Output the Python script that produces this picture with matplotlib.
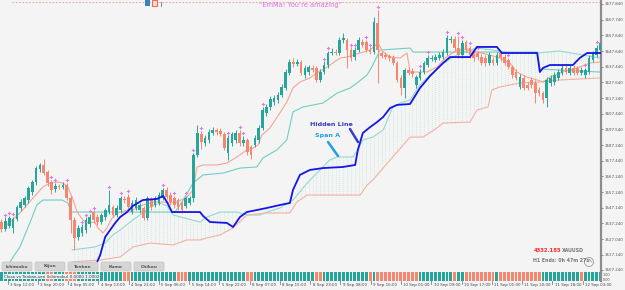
import numpy as np
import matplotlib
matplotlib.use("Agg")
import matplotlib.pyplot as plt
import matplotlib.transforms as mtransforms
from matplotlib.patches import Rectangle, FancyBboxPatch, Circle
from matplotlib.lines import Line2D

# ========== 1. Data (XAUUSD, H1) ==========
opens = [3538.0, 3533.5, 3535.4, 3534.2, 3539.9, 3547.0, 3548.9, 3552.1, 3557.3, 3563.7,
         3572.0, 3574.6, 3570.1, 3563.7, 3559.2, 3561.1, 3560.5, 3561.7, 3553.4, 3539.3,
         3528.4, 3531.0, 3532.9, 3536.7, 3544.4, 3541.2, 3538.0, 3541.2, 3544.4, 3547.6,
         3542.5, 3545.7, 3552.8, 3554.0, 3544.4, 3547.0, 3545.7, 3547.0, 3540.6, 3552.1,
         3548.9, 3550.2, 3553.4, 3558.5, 3555.3, 3553.4, 3552.1, 3550.2, 3548.3, 3550.2,
         3553.4, 3581.0, 3594.5, 3588.7, 3590.6, 3595.1, 3597.0, 3596.4, 3594.5, 3582.3,
         3588.7, 3590.6, 3595.1, 3588.7, 3590.6, 3586.1, 3587.4, 3590.6, 3598.3, 3607.9,
         3611.8, 3615.0, 3616.3, 3619.5, 3624.0, 3633.6, 3640.6, 3639.4, 3640.6, 3632.3,
         3634.2, 3636.8, 3636.8, 3629.1, 3634.2, 3638.7, 3646.4, 3647.0, 3646.4, 3654.7,
         3654.7, 3648.3, 3643.8, 3648.3, 3653.5, 3653.5, 3648.3, 3647.0, 3665.6, 3646.4,
         3645.1, 3644.5, 3643.2, 3640.0, 3630.4, 3624.0, 3635.5, 3634.8, 3625.9, 3630.4,
         3634.2, 3638.7, 3642.6, 3641.9, 3643.2, 3643.8, 3646.4, 3654.7, 3655.4, 3649.6,
         3645.1, 3653.5, 3649.6, 3646.4, 3646.4, 3643.8, 3643.2, 3640.0, 3641.9, 3640.0,
         3646.4, 3643.8, 3641.9, 3637.4, 3634.2, 3624.6, 3630.4, 3625.9, 3629.1, 3627.2,
         3622.7, 3620.7, 3617.5, 3627.2, 3627.8, 3630.4, 3633.6, 3636.8, 3633.6, 3636.8,
         3636.8, 3633.6, 3632.3, 3634.2, 3641.9, 3645.1, 3648.3]
closes = [3533.5, 3538.6, 3540.6, 3539.9, 3547.6, 3550.8, 3553.4, 3559.8, 3563.7, 3572.6,
          3574.6, 3569.4, 3563.0, 3558.5, 3561.1, 3560.5, 3561.7, 3553.4, 3539.3, 3527.8,
          3534.2, 3534.8, 3539.3, 3541.2, 3539.3, 3538.0, 3542.5, 3545.7, 3548.9, 3542.5,
          3547.0, 3553.4, 3552.1, 3547.6, 3550.2, 3552.1, 3548.9, 3540.6, 3553.4, 3547.6,
          3553.4, 3555.3, 3558.5, 3554.0, 3550.8, 3548.9, 3547.6, 3545.7, 3553.4, 3553.4,
          3581.0, 3595.1, 3589.3, 3591.9, 3595.7, 3597.0, 3595.7, 3594.5, 3585.5, 3591.9,
          3594.5, 3595.1, 3588.7, 3590.6, 3582.9, 3581.0, 3591.9, 3598.3, 3609.8, 3611.8,
          3616.9, 3617.5, 3619.5, 3624.6, 3634.2, 3640.6, 3639.4, 3640.6, 3633.6, 3636.8,
          3637.4, 3635.5, 3629.1, 3634.2, 3638.7, 3646.4, 3647.0, 3646.4, 3654.7, 3656.0,
          3648.3, 3643.2, 3648.3, 3654.7, 3651.5, 3648.3, 3647.0, 3666.3, 3648.3, 3644.5,
          3643.8, 3643.2, 3640.0, 3629.1, 3624.0, 3635.5, 3633.6, 3632.9, 3631.0, 3634.2,
          3640.0, 3643.2, 3643.2, 3643.8, 3645.1, 3647.0, 3656.0, 3655.4, 3649.6, 3645.1,
          3652.8, 3648.3, 3645.1, 3643.2, 3643.8, 3640.0, 3640.0, 3645.1, 3640.0, 3645.1,
          3643.2, 3640.0, 3637.4, 3632.3, 3630.4, 3631.0, 3624.0, 3624.0, 3625.9, 3620.7,
          3620.7, 3616.3, 3629.1, 3630.4, 3632.3, 3634.2, 3636.8, 3634.2, 3636.8, 3633.6,
          3633.6, 3635.5, 3635.5, 3643.2, 3646.4, 3649.6, 3652.8]
highs = [3540.0, 3541.0, 3542.0, 3541.5, 3549.0, 3552.5, 3555.0, 3561.0, 3565.0, 3574.0,
         3576.0, 3578.4, 3571.5, 3565.0, 3563.0, 3562.5, 3563.5, 3563.0, 3555.0, 3541.0,
         3536.0, 3536.5, 3541.0, 3543.0, 3545.5, 3543.0, 3544.0, 3547.0, 3558.5, 3549.0,
         3549.0, 3555.0, 3555.0, 3556.0, 3552.0, 3554.0, 3550.5, 3548.5, 3555.0, 3554.0,
         3555.0, 3557.0, 3560.0, 3560.5, 3557.0, 3555.0, 3553.5, 3551.5, 3555.0, 3555.0,
         3582.5, 3600.2, 3596.5, 3594.0, 3597.5, 3599.0, 3598.5, 3598.0, 3596.0, 3593.5,
         3596.0, 3597.0, 3597.0, 3593.0, 3592.0, 3587.5, 3593.5, 3600.0, 3612.0, 3613.5,
         3619.0, 3619.5, 3621.5, 3626.5, 3636.0, 3642.5, 3643.5, 3642.5, 3642.0, 3638.5,
         3639.0, 3638.5, 3638.0, 3636.0, 3641.0, 3648.0, 3649.5, 3649.0, 3656.5, 3659.0,
         3656.0, 3650.0, 3650.0, 3656.5, 3655.5, 3655.0, 3650.0, 3669.5, 3674.0, 3648.0,
         3647.0, 3646.0, 3645.0, 3641.5, 3632.0, 3637.0, 3637.5, 3636.5, 3632.5, 3636.0,
         3641.5, 3645.0, 3645.0, 3645.5, 3647.0, 3649.0, 3658.0, 3657.5, 3657.0, 3657.5,
         3655.0, 3655.0, 3651.0, 3648.0, 3648.0, 3645.5, 3645.0, 3647.0, 3644.0, 3647.0,
         3648.0, 3645.5, 3643.5, 3639.0, 3636.0, 3633.0, 3632.0, 3627.5, 3631.0, 3629.0,
         3624.5, 3622.0, 3631.0, 3632.0, 3634.0, 3636.0, 3638.5, 3638.5, 3638.5, 3638.5,
         3638.0, 3637.5, 3637.0, 3645.0, 3648.0, 3651.5, 3655.0]
lows = [3531.5, 3532.0, 3534.0, 3531.0, 3538.5, 3545.0, 3547.5, 3550.5, 3555.5, 3562.0,
        3570.0, 3568.0, 3561.0, 3556.0, 3557.0, 3559.0, 3559.0, 3552.0, 3531.0, 3520.1,
        3526.5, 3529.0, 3531.0, 3535.0, 3537.5, 3536.0, 3536.5, 3539.5, 3543.0, 3541.0,
        3541.0, 3544.0, 3550.5, 3546.0, 3543.0, 3545.5, 3544.0, 3539.0, 3539.0, 3546.0,
        3547.5, 3549.0, 3552.0, 3552.5, 3549.0, 3547.0, 3546.0, 3544.0, 3547.0, 3549.0,
        3551.0, 3579.5, 3585.0, 3586.5, 3589.0, 3593.5, 3594.0, 3593.0, 3584.0, 3577.8,
        3587.0, 3589.0, 3587.0, 3587.0, 3581.0, 3578.5, 3586.0, 3589.0, 3597.0, 3606.0,
        3610.0, 3613.0, 3614.5, 3618.0, 3622.5, 3632.0, 3637.5, 3638.0, 3632.0, 3630.5,
        3632.5, 3634.0, 3627.5, 3627.5, 3633.0, 3637.0, 3645.0, 3645.0, 3645.0, 3653.0,
        3636.8, 3641.5, 3642.0, 3647.0, 3650.0, 3647.0, 3645.5, 3645.5, 3627.2, 3643.0,
        3642.5, 3641.5, 3638.5, 3627.5, 3619.5, 3617.5, 3632.0, 3631.0, 3624.0, 3629.0,
        3633.0, 3637.5, 3641.0, 3640.5, 3642.0, 3642.5, 3645.0, 3653.0, 3648.0, 3643.5,
        3643.5, 3647.0, 3643.5, 3641.5, 3642.0, 3638.5, 3638.0, 3638.5, 3638.5, 3638.5,
        3641.5, 3638.5, 3636.0, 3630.5, 3629.0, 3623.0, 3622.5, 3622.5, 3624.0, 3614.3,
        3619.0, 3614.5, 3611.8, 3625.5, 3626.0, 3629.0, 3632.0, 3633.0, 3632.0, 3632.0,
        3632.0, 3632.0, 3630.5, 3633.0, 3640.5, 3644.0, 3647.0]

# bars with a magenta fractal mark above the high
fractal_bars = [1, 2, 3, 13, 14, 17, 21, 22, 23, 24, 28, 31, 33, 42, 45, 48, 50, 52, 59,
                62, 63, 68, 84, 85, 91, 92, 95, 96, 98, 109, 111, 116, 119, 120, 122, 124,
                132, 152, 155]

# Ichimoku lines, read as (bar, price) points
tenkan_x = [1.4, 4.8, 8.2, 10.8, 12.6, 14.5, 16.0, 17.3, 18.4, 19.7, 21.2, 22.5, 24.3, 25.1,
            26.4, 27.5, 28.8, 30.3, 32.7, 34.2, 36.8, 39.5, 42.1, 43.9, 45.7, 48.3, 49.9,
            50.9, 52.5, 56.1, 58.7, 61.3, 63.9, 65.5, 66.8, 67.8, 69.9, 72.5, 74.3, 75.9,
            77.7, 80.3, 82.9, 84.8, 86.3, 88.2, 90.0, 91.5, 93.4, 96.0, 98.0, 99.4, 101.2,
            103.8, 105.6, 106.4, 110.8, 113.4, 115.5, 118.6, 121.2, 123.8, 127.2, 129.8,
            132.4, 134.2, 136.8, 139.5, 141.0, 142.8, 146.2, 149.9, 153.3, 155.9]
tenkan_y = [3536.1, 3543.8, 3553.4, 3560.5, 3563.0, 3563.7, 3563.0, 3560.5, 3554.0, 3544.4,
            3539.3, 3537.4, 3538.0, 3534.2, 3531.0, 3534.2, 3540.6, 3543.8, 3545.7, 3545.7,
            3548.9, 3550.8, 3550.8, 3550.2, 3550.8, 3554.0, 3558.5, 3573.3, 3574.6, 3574.6,
            3575.8, 3579.7, 3584.2, 3585.5, 3587.4, 3593.8, 3598.3, 3607.9, 3615.0, 3624.0,
            3627.8, 3630.4, 3634.9, 3637.4, 3640.0, 3643.2, 3643.8, 3645.1, 3646.4, 3648.3,
            3652.8, 3647.0, 3643.8, 3643.2, 3646.4, 3634.2, 3634.2, 3637.4, 3643.2, 3648.3,
            3649.0, 3647.0, 3645.1, 3643.2, 3640.0, 3634.2, 3631.0, 3629.1, 3627.8, 3631.0,
            3634.2, 3636.8, 3640.0, 3640.6]
kijun_x = [2.2, 4.8, 7.4, 9.2, 10.8, 15.8, 17.3, 18.1, 45.2, 47.3, 49.9, 52.5, 57.7, 62.1,
           66.5, 68.1, 71.7, 74.3, 75.9, 78.5, 83.7, 87.4, 90.8, 92.6, 95.2, 96.7, 98.6,
           106.4, 107.2, 139.5, 140.2, 155.9]
kijun_y = [3512.4, 3522.0, 3537.4, 3548.9, 3552.1, 3552.1, 3550.2, 3544.4, 3544.4, 3552.1,
           3563.0, 3568.2, 3569.4, 3572.6, 3573.3, 3579.1, 3584.2, 3590.6, 3608.6, 3611.8,
           3614.3, 3620.7, 3624.0, 3627.2, 3632.3, 3638.7, 3648.3, 3649.6, 3647.0, 3647.0,
           3636.1, 3634.2]
span_a_x = [18.4, 24.3, 27.0, 29.0, 30.9, 34.2, 36.8, 38.7, 41.3, 43.1, 44.7, 51.7, 53.5,
            56.9, 61.3, 63.9, 67.3, 69.1, 72.5, 75.9, 79.6, 83.7, 85.5, 87.4, 91.5, 92.8,
            94.1, 96.7, 99.4, 101.9, 103.8, 106.4, 109.0, 111.6, 114.2, 116.8, 119.4, 123.8,
            128.0, 132.4, 139.5, 145.4, 151.4, 155.9]
span_a_y = [3520.1, 3522.0, 3524.5, 3529.7, 3532.9, 3539.3, 3543.8, 3547.6, 3550.2, 3548.3,
            3542.5, 3538.0, 3541.2, 3544.4, 3544.4, 3542.5, 3542.5, 3544.4, 3547.0, 3552.1,
            3563.0, 3573.3, 3577.8, 3579.7, 3579.7, 3584.2, 3590.6, 3592.5, 3597.0, 3611.8,
            3614.3, 3616.3, 3625.9, 3632.3, 3638.1, 3642.6, 3646.4, 3649.6, 3648.3, 3646.4,
            3646.4, 3647.7, 3645.1, 3643.2]
span_b_x = [18.4, 25.7, 30.9, 34.2, 38.7, 44.7, 48.3, 51.7, 53.5, 56.9, 60.3, 63.9, 69.1,
            75.1, 76.9, 79.6, 93.4, 95.2, 96.7, 101.2, 106.4, 109.8, 113.4, 115.0, 122.0,
            123.8, 126.7, 127.7, 129.8, 135.0, 140.2, 145.4, 155.9]
span_b_y = [3512.4, 3513.6, 3515.6, 3522.0, 3524.5, 3523.3, 3526.5, 3526.5, 3527.8, 3529.7,
            3534.2, 3542.5, 3543.8, 3543.8, 3550.8, 3555.3, 3555.3, 3561.7, 3565.0, 3577.8,
            3592.5, 3592.5, 3598.3, 3601.5, 3602.1, 3609.8, 3611.8, 3622.7, 3624.6, 3627.2,
            3627.8, 3629.1, 3630.4]
hidden_x = [24.9, 25.7, 26.2, 27.0, 28.3, 29.6, 30.9, 32.7, 34.2, 36.8, 40.5, 42.1, 43.1,
            44.4, 51.7, 52.5, 54.3, 58.7, 60.3, 62.1, 63.9, 69.1, 72.5, 75.1, 75.9, 77.7,
            80.3, 83.7, 88.9, 92.1, 92.8, 94.1, 96.0, 97.8, 99.4, 101.2, 103.0, 106.4, 109.0,
            111.6, 115.0, 116.8, 122.0, 123.8, 129.0, 130.3, 139.5, 140.2, 141.0, 142.8,
            148.8, 150.6, 152.5, 155.9]
hidden_y = [3512.4, 3516.8, 3521.3, 3528.4, 3532.9, 3537.4, 3541.2, 3544.4, 3548.3, 3552.1,
            3552.8, 3554.7, 3550.8, 3544.4, 3544.4, 3541.9, 3538.0, 3537.4, 3534.8, 3541.2,
            3544.4, 3547.0, 3548.9, 3550.2, 3558.5, 3568.2, 3571.4, 3572.6, 3573.3, 3574.6,
            3584.2, 3595.1, 3598.9, 3602.1, 3605.4, 3611.1, 3613.1, 3613.7, 3624.0, 3631.7,
            3640.0, 3643.8, 3643.8, 3650.3, 3650.3, 3646.4, 3646.4, 3634.2, 3636.8, 3638.7,
            3638.7, 3643.2, 3646.4, 3646.4]

# bars where close is below tenkan (salmon cells in the bottom strip)
below_tenkan = [12, 13, 17, 18, 19, 32, 33, 46, 47, 48, 64, 65, 82, 83, 96,
                98, 99, 100, 101, 102, 103, 104, 105, 106, 107, 108, 118,
                121, 122, 123, 124, 125, 126, 127, 128,
                130, 131, 132, 133, 134, 135, 136, 137, 138, 139, 140, 151]

top_level = 3678.8
price_ticks = [3677.840, 3667.740, 3657.640, 3647.640, 3637.440, 3627.640, 3617.240,
               3607.440, 3597.540, 3587.240, 3577.440, 3567.240, 3557.240, 3547.140,
               3537.240, 3527.040, 3517.140, 3507.240]
time_labels = ["3 Sep 12:00", "3 Sep 20:00", "4 Sep 05:00", "4 Sep 13:00", "4 Sep 21:00",
               "5 Sep 06:00", "5 Sep 14:00", "5 Sep 22:00", "8 Sep 07:00", "8 Sep 15:00",
               "8 Sep 23:00", "9 Sep 08:00", "9 Sep 16:00", "10 Sep 01:00", "10 Sep 09:00",
               "10 Sep 17:00", "11 Sep 01:00", "11 Sep 10:00", "11 Sep 18:00", "12 Sep 03:00"]
buttons = ["Ichimoku", "Kijun", "Tenkan", "Kumo", "Chikou"]

# ========== 2. Style ==========
BG = "#f4f4f4"
TEAL = "#26a69a"
SALMON = "#f7866f"
XLIM = (-0.39, 156.12)

o = np.array(opens); c = np.array(closes)
h = np.array(highs); l = np.array(lows)
bars = np.arange(len(o))

fig = plt.figure(figsize=(6.25, 2.9), dpi=100, facecolor=BG)
T = fig.dpi_scale_trans


def P(x, y):
    # pixel position (from top-left) -> inches
    return x / 100, (290 - y) / 100


ax = fig.add_axes([0, 18 / 290, 601 / 625, 272 / 290])
ax.set_facecolor(BG)
ax.set_xlim(*XLIM)
ax.set_ylim(3505.94, 3680.4)
for s in ["top", "left", "bottom"]:
    ax.spines[s].set_visible(False)
ax.spines["right"].set_color("#8c8c8c")
ax.spines["right"].set_linewidth(1.6)
ax.yaxis.tick_right()
ax.set_yticks(price_ticks)
ax.set_yticklabels([f"{v:.3f}" for v in price_ticks])
ax.tick_params(axis="y", length=1.5, width=0.6, colors="#777", labelsize=2.9,
               labelcolor="#555", pad=1.0)
ax.set_xticks([])

# top dotted level
ax.hlines(top_level, 2.7, XLIM[1], colors="#f4a6a0", linestyles=(0, (1.5, 1.5)), lw=0.8)

# ========== 3. Kumo ==========
cb = bars[bars >= 19]
a = np.interp(cb, span_a_x, span_a_y)
b = np.interp(cb, span_b_x, span_b_y)
ax.vlines(cb, np.minimum(a, b), np.maximum(a, b),
          colors=np.where(a >= b, "#a6e0d7", "#f6c2b6"),
          linewidth=0.5, linestyles=(0, (0.8, 2.0)), zorder=1)
ax.plot(span_a_x, span_a_y, color="#8edbd0", lw=0.8, zorder=2)
ax.plot(span_b_x, span_b_y, color="#f6b1a3", lw=0.8, zorder=2)
ax.plot(kijun_x, kijun_y, color="#6fcfc2", lw=0.8, zorder=2)
ax.plot(tenkan_x, tenkan_y, color="#f6a595", lw=0.8, zorder=2)

# ========== 4. Candles ==========
col = np.where(c >= o, TEAL, SALMON)
ax.vlines(bars, l, h, colors=col, linewidth=0.7, zorder=4)
ax.bar(bars, np.maximum(np.abs(c - o), 0.4), bottom=np.minimum(o, c), width=0.7,
       color=col, linewidth=0, zorder=5)
ax.plot(fractal_bars, h[fractal_bars] + 1.8, "P", ms=2.4, color="#e07ae6", mew=0, zorder=6)

ax.plot(hidden_x, hidden_y, color="#1515e8", lw=1.3, zorder=7)

# ========== 5. Bottom strip: close vs tenkan ==========
sx = fig.add_axes([0, 9 / 290, 601 / 625, 9 / 290])
sx.set_facecolor(BG)
sx.set_xlim(*XLIM)
sx.set_ylim(0, 1)
strip_col = [SALMON if i in below_tenkan else TEAL for i in bars]
sx.bar(bars, 1, width=0.74, color=strip_col, linewidth=0)
for s in ["top", "left", "bottom"]:
    sx.spines[s].set_visible(False)
sx.spines["right"].set_color("#8c8c8c")
sx.spines["right"].set_linewidth(1.6)
sx.set_xticks([]); sx.set_yticks([])
sx.text(0.6, 0.5, "Close vs Tenkan-sen (Ichimoku) 0.0000 1.0002", fontsize=3.0,
        color="#333", va="center", ha="left",
        bbox=dict(fc="#e9efee", ec="none", pad=0.6))

tr = mtransforms.blended_transform_factory(sx.transData, sx.transAxes)
label_pos = np.arange(len(time_labels)) * 7.88 + 1.6
for pos, lab in zip(label_pos, time_labels):
    sx.plot([pos, pos], [0, -0.3], color="#666", lw=0.5, transform=tr, clip_on=False)
    sx.text(pos + 0.6, -0.22, lab, transform=tr, fontsize=2.9, color="#444",
            ha="left", va="top", clip_on=False)
fig.text(*P(603, 275), "1.00", transform=T, fontsize=2.4, color="#555", va="center")
fig.text(*P(603, 280), "0.00", transform=T, fontsize=2.4, color="#555", va="center")

# ========== 6. Overlays ==========
for k, name in enumerate(buttons):
    x0 = 2 + 33 * k
    fig.add_artist(FancyBboxPatch(P(x0, 271), 0.30, 0.09, transform=T,
                                  boxstyle="round,pad=0,rounding_size=0.012",
                                  fc="#d5d5d5", ec="#c6c6c6", lw=0.5))
    fig.text(*P(x0 + 15, 266.5), name, transform=T, fontsize=3.2, fontweight="bold",
             color="#555", ha="center", va="center")

fig.text(*P(301, 5), "\u201cEmMa! You\u2019re amazing\u201d", transform=T, fontsize=4.8,
         color="#e070e0", ha="center", va="center")
fig.add_artist(Rectangle(P(145, 6), 0.05, 0.06, transform=T, fc="#3d7ebf", ec="none"))
fig.add_artist(Rectangle(P(152, 6), 0.05, 0.06, transform=T, fc="#fde3dc", ec="#f06a50", lw=0.8))
fig.add_artist(Line2D([1.605, 1.605], [2.84, 2.88], transform=T, color="#777", lw=0.6))

fig.text(*P(310, 124), "Hidden Line", transform=T, fontsize=4.6, fontweight="bold",
         color="#3a3ac8", ha="left", va="center")
fig.add_artist(Line2D(*zip(P(350, 129), P(358, 142)), transform=T, color="#3a3ac8",
                      lw=1.8, solid_capstyle="round"))
fig.text(*P(315, 136), "Span A", transform=T, fontsize=4.6, fontweight="bold",
         color="#1ea0e6", ha="left", va="center")
fig.add_artist(Line2D(*zip(P(328, 142), P(338, 156)), transform=T, color="#1ea0e6",
                      lw=1.8, solid_capstyle="round"))

fig.text(*P(534, 251), "4332.185", transform=T, fontsize=3.8, fontweight="bold",
         color="#ff2a2a", ha="left", va="center")
fig.text(*P(562, 251), "XAUUSD", transform=T, fontsize=3.4, fontweight="bold",
         color="#777", ha="left", va="center")
fig.text(*P(533, 261), "H1 Ends: 0h 47m 27s", transform=T, fontsize=3.4, fontweight="bold",
         color="#777", ha="left", va="center")
fig.add_artist(Circle(P(589, 262), 0.045, transform=T, fill=False, ec="#999", lw=0.6))
fig.add_artist(Line2D([5.89, 5.89, 5.92], [0.28, 0.31, 0.28], transform=T, color="#999", lw=0.5))

# ========== 7. Save ==========
fig.savefig("out.png", dpi=100, facecolor=BG)
